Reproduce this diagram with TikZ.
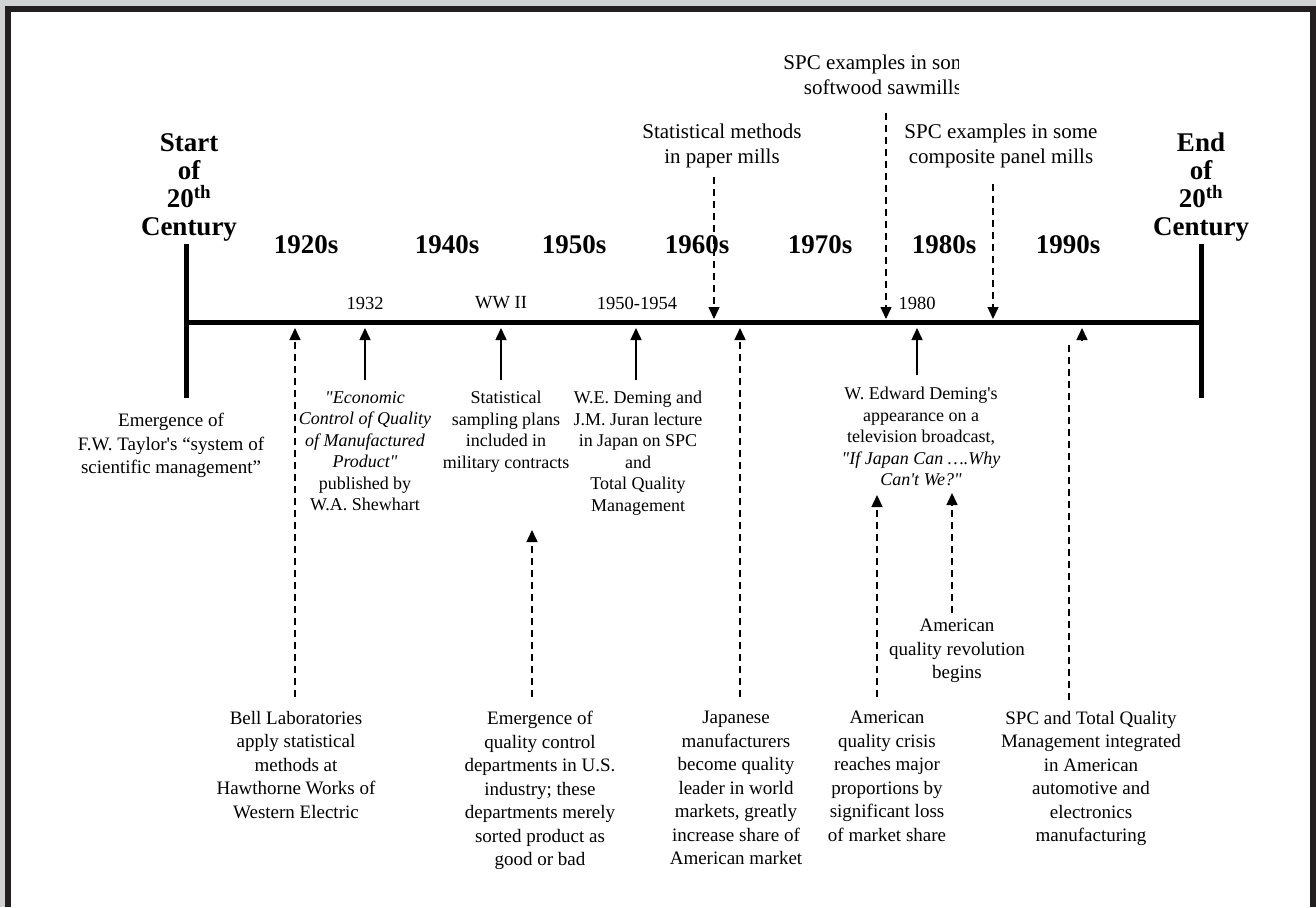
\documentclass[tikz,border=0pt]{standalone}
\usepackage{fontspec}
\setmainfont{Liberation Serif}[Ligatures=TeXOff]
\usetikzlibrary{arrows.meta}
\definecolor{framedark}{HTML}{231F20}
\definecolor{bggray}{HTML}{D1D2D4}
\begin{document}
\begin{tikzpicture}[x=1pt,y=-1pt,
  >={Triangle[width=11pt,length=12pt]},
  bigbold/.style={font=\fontsize{27}{28}\selectfont\bfseries, align=center, inner sep=0pt, anchor=north},
  decade/.style={font=\fontsize{27}{28}\selectfont\bfseries, inner sep=0pt},
  yearlbl/.style={font=\fontsize{18.5}{21}\selectfont, inner sep=0pt},
  toptxt/.style={font=\fontsize{21}{24.5}\selectfont, align=center, inner sep=0pt, anchor=north},
  midtxt/.style={font=\fontsize{18}{21.5}\selectfont, align=center, inner sep=0pt, anchor=north},
  bottxt/.style={font=\fontsize{19}{23.5}\selectfont, align=center, inner sep=0pt, anchor=north},
  solidarr/.style={->, line width=1.5pt},
  dasharr/.style={->, line width=1.5pt, dash pattern=on 7pt off 5pt},
  barline/.style={line width=5pt}
]
\useasboundingbox (0,0) rectangle (1316,907);
% frame
\fill[bggray] (0,0) rectangle (1316,907);
\fill[framedark] (5,6) rectangle (1316,907);
\fill[white] (11,12) rectangle (1310,907);

% timeline and end bars
\coordinate (lineL) at (184,322);
\coordinate (lineR) at (1203,322);
\draw[barline] (lineL) -- (lineR);
\coordinate (sbarT) at (186,244);
\coordinate (sbarB) at (186,398);
\coordinate (ebarT) at (1201,244);
\coordinate (ebarB) at (1201,398);
\draw[barline] (sbarT) -- (sbarB);
\draw[barline] (ebarT) -- (ebarB);

% century labels
\node[bigbold] (start) at (189,133) {Start\\of\\20\textsuperscript{th}\\Century};
\node[bigbold] (end) at (1201,133) {End\\of\\20\textsuperscript{th}\\Century};

% decades
\node[decade] (d1920) at (306,245) {1920s};
\node[decade] (d1940) at (447,245) {1940s};
\node[decade] (d1950) at (574,245) {1950s};
\node[decade] (d1960) at (697,245) {1960s};
\node[decade] (d1970) at (820,245) {1970s};
\node[decade] (d1980) at (944,245) {1980s};
\node[decade] (d1990) at (1068,245) {1990s};

% year labels
\node[yearlbl] (y1932) at (365,303) {1932};
\node[yearlbl] (yww) at (501,303) {WW II};
\node[yearlbl] (y1950) at (637,303) {1950-1954};
\node[yearlbl] (y1980) at (917,303) {1980};

% top texts
\node[toptxt] (paper) at (722,124) {Statistical methods\\in paper mills};
\begin{scope}
\clip (700,30) rectangle (958,110);
\node[toptxt] (saw) at (880,55) {SPC examples in some\\\hphantom{i}softwood sawmills};
\end{scope}
\node[toptxt] (comp) at (1001,124) {SPC examples in some\\composite panel mills};

% middle texts
\node[bottxt] (taylor) at (171,413) {Emergence of\\F.W. Taylor's “system of\\scientific management”};
\node[midtxt] (shew) at (365,391) {\itshape "Economic\\\itshape Control of Quality\\\itshape of Manufactured\\\itshape Product"\\published by\\W.A. Shewhart};
\node[midtxt] (samp) at (506,391) {Statistical\\sampling plans\\included in\\military contracts};
\node[midtxt] (dem) at (638,391) {W.E. Deming and\\J.M. Juran lecture\\in Japan on SPC\\and\\Total Quality\\Management};
\node[midtxt] (tv) at (921,387) {W. Edward Deming's\\appearance on a\\television broadcast,\\\itshape "If Japan Can ….Why\\\itshape Can't We?"};
\node[bottxt] (revol) at (957,619) {American\\quality revolution\\begins};

% bottom texts
\node[bottxt] (bell) at (296,711) {Bell Laboratories\\apply statistical\\methods at\\Hawthorne Works of\\Western Electric};
\node[bottxt] (qc) at (540,711) {Emergence of\\quality control\\departments in U.S.\\industry; these\\departments merely\\sorted product as\\good or bad};
\node[bottxt] (jap) at (736,711) {Japanese\\manufacturers\\become quality\\leader in world\\markets, greatly\\increase share of\\American market};
\node[bottxt] (crisis) at (887,711) {American\\quality crisis\\reaches major\\proportions by\\significant loss\\of market share};
\node[bottxt] (spc) at (1091,711) {SPC and Total Quality\\Management integrated\\in American\\automotive and\\electronics\\manufacturing};

% arrow end points
\coordinate (tBell) at (295,328);
\coordinate (t1932) at (365,328);
\coordinate (tWW) at (501,328);
\coordinate (t1950) at (636,328);
\coordinate (tJap) at (740,328);
\coordinate (t1980) at (917,328);
\coordinate (tQC) at (532,530);
\coordinate (tPaper) at (714,319);
\coordinate (tSaw) at (886,319);
\coordinate (tComp) at (993,319);
\coordinate (tTvL) at (877,495);
\coordinate (tTvR) at (952,493);
\coordinate (tSPCline) at (1069,342);
\coordinate (tSPCbase) at (1082,341);
\coordinate (tSPChead) at (1082,328);

% solid arrows up
\draw[solidarr, shorten <=11pt] (t1932 |- shew.north) -- (t1932);
\draw[solidarr, shorten <=11pt] (tWW |- samp.north) -- (tWW);
\draw[solidarr, shorten <=11pt] (t1950 |- dem.north) -- (t1950);
\draw[solidarr, shorten <=12pt] (t1980 |- tv.north) -- (t1980);

% dashed arrows up
\draw[dasharr, shorten <=14pt] (tBell |- bell.north) -- (tBell);
\draw[dasharr, shorten <=14pt] (tQC |- qc.north) -- (tQC);
\draw[dasharr, shorten <=14pt] (tJap |- jap.north) -- (tJap);
\draw[dasharr, shorten <=14pt] (tTvL |- crisis.north) -- (tTvL);
\draw[dasharr, shorten <=6pt] (tTvR |- revol.north) -- (tTvR);
\draw[line width=1.5pt, dash pattern=on 7pt off 5pt, shorten <=11pt] (tSPCline |- spc.north) -- (tSPCline);
\draw[->, line width=1.5pt] (tSPCbase) -- (tSPChead);

% dashed arrows down
\draw[dasharr, shorten <=9pt] (tPaper |- paper.south) -- (tPaper);
\draw[dasharr, shorten <=18pt] (tSaw |- saw.south) -- (tSaw);
\draw[dasharr, shorten <=16pt] (tComp |- comp.south) -- (tComp);
\end{tikzpicture}
\end{document}
